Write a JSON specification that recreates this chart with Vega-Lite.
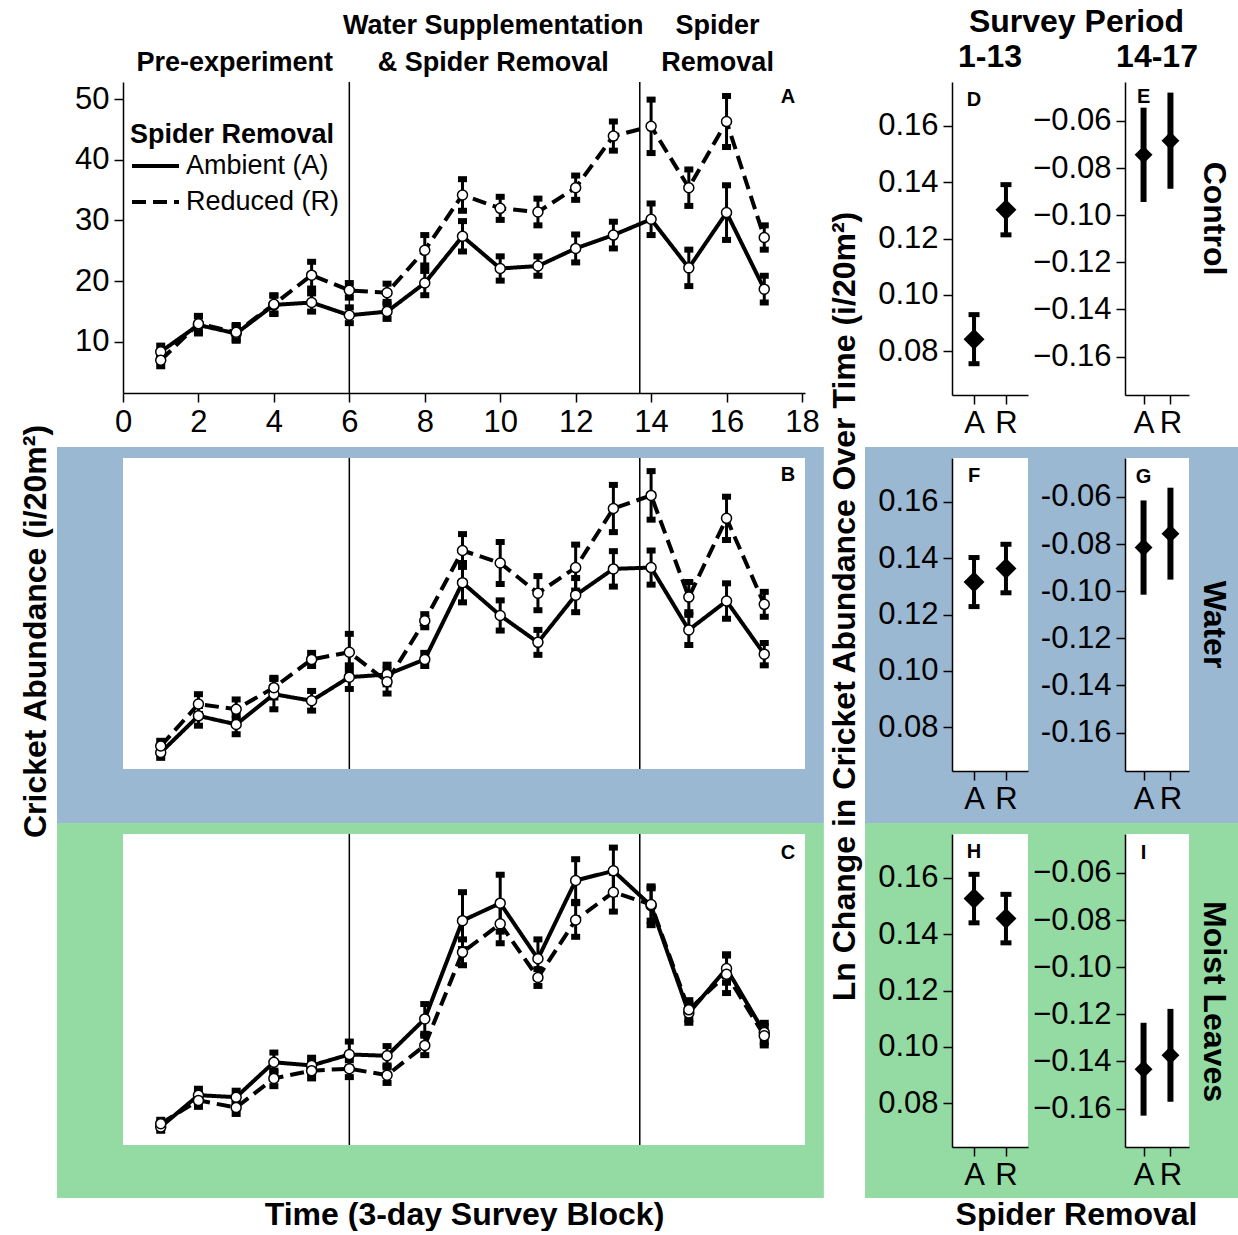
{
  "$schema": "https://vega.github.io/schema/vega-lite/v6.json",
  "background": "white",
  "padding": {"left": 18, "top": 6, "right": 0, "bottom": 0},
  "bounds": "flush",
  "align": "each",
  "columns": 5,
  "spacing": {"row": 63, "column": 0},
  "resolve": {"scale": {"strokeDash": "independent"}, "legend": {"strokeDash": "independent"}},
  "config": {
    "font": "Liberation Sans",
    "view": {"stroke": null},
    "axis": {"labelFont": "Liberation Sans", "labelFontSize": 31, "labelColor": "black", "titleFont": "Liberation Sans", "titleFontSize": 32, "titleFontWeight": "bold", "titleColor": "black", "domainColor": "black", "domainWidth": 1.5, "tickColor": "black", "tickWidth": 1.5, "tickSize": 9, "labelPadding": 5, "grid": false, "zindex": 1, "labelFlush": false, "labelOverlap": false, "labelLimit": 500, "titleLimit": 1000},
    "title": {"font": "Liberation Sans", "fontSize": 32, "fontWeight": "bold", "color": "black", "anchor": "middle", "zindex": 1},
    "legend": {"titleFont": "Liberation Sans", "labelFont": "Liberation Sans", "titleColor": "black", "labelColor": "black"},
    "text": {"font": "Liberation Sans"}
  },
  "datasets": {
    "phases": [{"boundary": 6}, {"boundary": 13.7}],
    "control": [
      {"block": 1, "removal": "Ambient (A)", "mean": 8.4, "se": 1.0},
      {"block": 2, "removal": "Ambient (A)", "mean": 12.8, "se": 1.4},
      {"block": 3, "removal": "Ambient (A)", "mean": 11.4, "se": 1.2},
      {"block": 4, "removal": "Ambient (A)", "mean": 16.1, "se": 1.5},
      {"block": 5, "removal": "Ambient (A)", "mean": 16.5, "se": 1.5},
      {"block": 6, "removal": "Ambient (A)", "mean": 14.4, "se": 1.3},
      {"block": 7, "removal": "Ambient (A)", "mean": 15.0, "se": 1.2},
      {"block": 8, "removal": "Ambient (A)", "mean": 19.7, "se": 2.0},
      {"block": 9, "removal": "Ambient (A)", "mean": 27.4, "se": 2.5},
      {"block": 10, "removal": "Ambient (A)", "mean": 22.1, "se": 2.0},
      {"block": 11, "removal": "Ambient (A)", "mean": 22.5, "se": 1.6},
      {"block": 12, "removal": "Ambient (A)", "mean": 25.4, "se": 2.3},
      {"block": 13, "removal": "Ambient (A)", "mean": 27.6, "se": 2.2},
      {"block": 14, "removal": "Ambient (A)", "mean": 30.2, "se": 2.6},
      {"block": 15, "removal": "Ambient (A)", "mean": 22.2, "se": 3.0},
      {"block": 16, "removal": "Ambient (A)", "mean": 31.3, "se": 4.5},
      {"block": 17, "removal": "Ambient (A)", "mean": 18.7, "se": 2.2},
      {"block": 1, "removal": "Reduced (R)", "mean": 7.0, "se": 1.0},
      {"block": 2, "removal": "Reduced (R)", "mean": 13.0, "se": 1.3},
      {"block": 3, "removal": "Reduced (R)", "mean": 11.6, "se": 1.2},
      {"block": 4, "removal": "Reduced (R)", "mean": 16.2, "se": 1.5},
      {"block": 5, "removal": "Reduced (R)", "mean": 21.0, "se": 2.2},
      {"block": 6, "removal": "Reduced (R)", "mean": 18.5, "se": 1.2},
      {"block": 7, "removal": "Reduced (R)", "mean": 18.1, "se": 1.5},
      {"block": 8, "removal": "Reduced (R)", "mean": 25.1, "se": 2.5},
      {"block": 9, "removal": "Reduced (R)", "mean": 34.2, "se": 2.6},
      {"block": 10, "removal": "Reduced (R)", "mean": 32.0, "se": 1.9},
      {"block": 11, "removal": "Reduced (R)", "mean": 31.4, "se": 2.2},
      {"block": 12, "removal": "Reduced (R)", "mean": 35.4, "se": 2.0},
      {"block": 13, "removal": "Reduced (R)", "mean": 43.9, "se": 2.4},
      {"block": 14, "removal": "Reduced (R)", "mean": 45.5, "se": 4.4},
      {"block": 15, "removal": "Reduced (R)", "mean": 35.4, "se": 3.0},
      {"block": 16, "removal": "Reduced (R)", "mean": 46.3, "se": 4.2},
      {"block": 17, "removal": "Reduced (R)", "mean": 27.2, "se": 2.0}
    ],
    "water": [
      {"block": 1, "removal": "Ambient (A)", "mean": 4.4, "se": 0.8},
      {"block": 2, "removal": "Ambient (A)", "mean": 10.0, "se": 1.5},
      {"block": 3, "removal": "Ambient (A)", "mean": 8.7, "se": 1.5},
      {"block": 4, "removal": "Ambient (A)", "mean": 13.3, "se": 2.3},
      {"block": 5, "removal": "Ambient (A)", "mean": 12.3, "se": 1.5},
      {"block": 6, "removal": "Ambient (A)", "mean": 15.9, "se": 1.8},
      {"block": 7, "removal": "Ambient (A)", "mean": 16.3, "se": 1.5},
      {"block": 8, "removal": "Ambient (A)", "mean": 18.6, "se": 1.0},
      {"block": 9, "removal": "Ambient (A)", "mean": 30.3, "se": 3.0},
      {"block": 10, "removal": "Ambient (A)", "mean": 25.3, "se": 2.3},
      {"block": 11, "removal": "Ambient (A)", "mean": 21.2, "se": 1.9},
      {"block": 12, "removal": "Ambient (A)", "mean": 28.4, "se": 2.6},
      {"block": 13, "removal": "Ambient (A)", "mean": 32.4, "se": 2.7},
      {"block": 14, "removal": "Ambient (A)", "mean": 32.6, "se": 2.6},
      {"block": 15, "removal": "Ambient (A)", "mean": 23.1, "se": 2.3},
      {"block": 16, "removal": "Ambient (A)", "mean": 27.5, "se": 2.7},
      {"block": 17, "removal": "Ambient (A)", "mean": 19.4, "se": 1.7},
      {"block": 1, "removal": "Reduced (R)", "mean": 5.4, "se": 0.8},
      {"block": 2, "removal": "Reduced (R)", "mean": 11.8, "se": 1.5},
      {"block": 3, "removal": "Reduced (R)", "mean": 11.0, "se": 1.5},
      {"block": 4, "removal": "Reduced (R)", "mean": 14.3, "se": 1.5},
      {"block": 5, "removal": "Reduced (R)", "mean": 18.6, "se": 1.0},
      {"block": 6, "removal": "Reduced (R)", "mean": 19.7, "se": 2.8},
      {"block": 7, "removal": "Reduced (R)", "mean": 15.2, "se": 1.8},
      {"block": 8, "removal": "Reduced (R)", "mean": 24.5, "se": 1.0},
      {"block": 9, "removal": "Reduced (R)", "mean": 35.2, "se": 2.5},
      {"block": 10, "removal": "Reduced (R)", "mean": 33.3, "se": 3.2},
      {"block": 11, "removal": "Reduced (R)", "mean": 28.7, "se": 2.6},
      {"block": 12, "removal": "Reduced (R)", "mean": 32.6, "se": 3.5},
      {"block": 13, "removal": "Reduced (R)", "mean": 41.6, "se": 3.6},
      {"block": 14, "removal": "Reduced (R)", "mean": 43.6, "se": 3.7},
      {"block": 15, "removal": "Reduced (R)", "mean": 28.1, "se": 2.3},
      {"block": 16, "removal": "Reduced (R)", "mean": 40.1, "se": 3.3},
      {"block": 17, "removal": "Reduced (R)", "mean": 27.0, "se": 1.9}
    ],
    "moist": [
      {"block": 1, "removal": "Ambient (A)", "mean": 5.5, "se": 0.6},
      {"block": 2, "removal": "Ambient (A)", "mean": 10.4, "se": 1.0},
      {"block": 3, "removal": "Ambient (A)", "mean": 10.1, "se": 1.0},
      {"block": 4, "removal": "Ambient (A)", "mean": 15.5, "se": 1.5},
      {"block": 5, "removal": "Ambient (A)", "mean": 15.0, "se": 1.2},
      {"block": 6, "removal": "Ambient (A)", "mean": 16.7, "se": 2.0},
      {"block": 7, "removal": "Ambient (A)", "mean": 16.5, "se": 1.5},
      {"block": 8, "removal": "Ambient (A)", "mean": 22.2, "se": 2.3},
      {"block": 9, "removal": "Ambient (A)", "mean": 37.4, "se": 4.4},
      {"block": 10, "removal": "Ambient (A)", "mean": 40.1, "se": 4.4},
      {"block": 11, "removal": "Ambient (A)", "mean": 31.5, "se": 3.0},
      {"block": 12, "removal": "Ambient (A)", "mean": 43.6, "se": 3.3},
      {"block": 13, "removal": "Ambient (A)", "mean": 45.1, "se": 3.6},
      {"block": 14, "removal": "Ambient (A)", "mean": 39.7, "se": 3.0},
      {"block": 15, "removal": "Ambient (A)", "mean": 23.1, "se": 1.5},
      {"block": 16, "removal": "Ambient (A)", "mean": 30.0, "se": 2.2},
      {"block": 17, "removal": "Ambient (A)", "mean": 20.1, "se": 1.5},
      {"block": 1, "removal": "Reduced (R)", "mean": 6.0, "se": 0.6},
      {"block": 2, "removal": "Reduced (R)", "mean": 9.6, "se": 1.0},
      {"block": 3, "removal": "Reduced (R)", "mean": 8.5, "se": 1.0},
      {"block": 4, "removal": "Reduced (R)", "mean": 13.0, "se": 1.2},
      {"block": 5, "removal": "Reduced (R)", "mean": 14.2, "se": 1.2},
      {"block": 6, "removal": "Reduced (R)", "mean": 14.5, "se": 1.3},
      {"block": 7, "removal": "Reduced (R)", "mean": 13.5, "se": 1.2},
      {"block": 8, "removal": "Reduced (R)", "mean": 18.1, "se": 1.5},
      {"block": 9, "removal": "Reduced (R)", "mean": 32.5, "se": 2.0},
      {"block": 10, "removal": "Reduced (R)", "mean": 36.9, "se": 3.0},
      {"block": 11, "removal": "Reduced (R)", "mean": 28.6, "se": 1.3},
      {"block": 12, "removal": "Reduced (R)", "mean": 37.5, "se": 2.6},
      {"block": 13, "removal": "Reduced (R)", "mean": 41.8, "se": 3.0},
      {"block": 14, "removal": "Reduced (R)", "mean": 39.9, "se": 2.5},
      {"block": 15, "removal": "Reduced (R)", "mean": 23.6, "se": 1.5},
      {"block": 16, "removal": "Reduced (R)", "mean": 29.1, "se": 2.9},
      {"block": 17, "removal": "Reduced (R)", "mean": 19.6, "se": 1.5}
    ],
    "change": [
      {"treatment": "Control", "period": "1-13", "removal": "A", "mean": 0.0843, "se": 0.0087},
      {"treatment": "Control", "period": "1-13", "removal": "R", "mean": 0.1302, "se": 0.0089},
      {"treatment": "Control", "period": "14-17", "removal": "A", "mean": -0.0744, "se": 0.0200},
      {"treatment": "Control", "period": "14-17", "removal": "R", "mean": -0.0684, "se": 0.0204},
      {"treatment": "Water", "period": "1-13", "removal": "A", "mean": 0.1315, "se": 0.0087},
      {"treatment": "Water", "period": "1-13", "removal": "R", "mean": 0.1363, "se": 0.0086},
      {"treatment": "Water", "period": "14-17", "removal": "A", "mean": -0.0815, "se": 0.0200},
      {"treatment": "Water", "period": "14-17", "removal": "R", "mean": -0.0756, "se": 0.0195},
      {"treatment": "Moist Leaves", "period": "1-13", "removal": "A", "mean": 0.1526, "se": 0.0086},
      {"treatment": "Moist Leaves", "period": "1-13", "removal": "R", "mean": 0.1455, "se": 0.0086},
      {"treatment": "Moist Leaves", "period": "14-17", "removal": "A", "mean": -0.1433, "se": 0.0197},
      {"treatment": "Moist Leaves", "period": "14-17", "removal": "R", "mean": -0.1374, "se": 0.0197}
    ]
  },
  "concat": [
    {
      "width": 682,
      "height": 311,
      "data": {"name": "control"},
      "resolve": {"axis": {"x": "independent", "y": "independent"}},
      "layer": [
        {
          "data": {"name": "phases"},
          "mark": {"type": "rule", "color": "black", "strokeWidth": 1.5},
          "encoding": {
            "x": {"field": "boundary", "type": "quantitative", "scale": {"domain": [0, 18.08], "nice": false, "zero": false},
              "axis": {"orient": "top", "values": [2.95, 9.8, 15.75], "labelExpr": "datum.value < 5 ? ['', 'Pre-experiment'] : datum.value < 12 ? ['Water Supplementation', '& Spider Removal'] : ['Spider', 'Removal']", "ticks": false, "tickSize": 0, "domain": false, "title": null, "labelFontWeight": "bold", "labelFontSize": 27, "labelLineHeight": 37, "labelPadding": 43, "labelBaseline": "bottom", "labelOverlap": false, "labelFlush": false, "labelBound": false, "labelLimit": 600}}
          }
        },
        {
          "mark": {"type": "errorbar", "size": 9, "thickness": 3, "ticks": {"thickness": 6, "color": "black", "opacity": 1}, "rule": {"color": "black", "opacity": 1}, "color": "black"},
          "encoding": {
            "x": {"field": "block", "type": "quantitative", "scale": {"domain": [0, 18.08], "nice": false, "zero": false}, "axis": null},
            "y": {"field": "mean", "type": "quantitative", "scale": {"domain": [1.6, 52.8], "nice": false, "zero": false}, "axis": null},
            "yError": {"field": "se"}
          }
        },
        {
          "mark": {"type": "line", "color": "black", "strokeWidth": 4},
          "encoding": {
            "x": {"field": "block", "type": "quantitative", "scale": {"domain": [0, 18.08], "nice": false, "zero": false}, "axis": {"values": [0, 2, 4, 6, 8, 10, 12, 14, 16, 18], "title": null}},
            "y": {"field": "mean", "type": "quantitative", "scale": {"domain": [1.6, 52.8], "nice": false, "zero": false}, "axis": {"values": [10, 20, 30, 40, 50], "title": null}},
            "strokeDash": {"field": "removal", "type": "nominal", "scale": {"domain": ["Ambient (A)", "Reduced (R)"], "range": [[1, 0], [14, 7]]},
              "legend": {"title": "Spider Removal", "orient": "none", "legendX": 7, "legendY": 40, "symbolType": "stroke", "symbolSize": 2209, "symbolStrokeWidth": 4, "symbolStrokeColor": "black", "clipHeight": 30, "titleFontSize": 27, "titleFontWeight": "bold", "titleLimit": 500, "labelFontSize": 27, "rowPadding": 6, "titlePadding": 2, "labelOffset": 5, "labelLimit": 400}}
          }
        },
        {
          "mark": {"type": "point", "shape": "circle", "filled": true, "fill": "white", "stroke": "black", "strokeWidth": 1.5, "size": 100, "opacity": 1},
          "encoding": {
            "x": {"field": "block", "type": "quantitative", "scale": {"domain": [0, 18.08], "nice": false, "zero": false}, "axis": null},
            "y": {"field": "mean", "type": "quantitative", "scale": {"domain": [1.6, 52.8], "nice": false, "zero": false}, "axis": null}
          }
        },
        {
          "data": {"values": [{"panel": "A"}]},
          "mark": {"type": "text", "fontSize": 20, "fontWeight": "bold", "align": "center", "baseline": "middle", "color": "black"},
          "encoding": {
            "x": {"datum": 17.63, "type": "quantitative", "scale": {"domain": [0, 18.08], "nice": false, "zero": false}, "axis": null},
            "y": {"datum": 50.3, "type": "quantitative", "scale": {"domain": [1.6, 52.8], "nice": false, "zero": false}, "axis": null},
            "text": {"field": "panel"}
          }
        }
      ]
    },
    {"width": 147, "height": 313, "data": {"values": []}, "mark": {"type": "point"}, "encoding": {}},
    {
      "width": 76,
      "height": 313,
      "title": {"text": "1-13", "offset": 8},
      "data": {"name": "change"},
      "resolve": {"axis": {"x": "independent", "y": "independent"}},
      "layer": [
        {
          "transform": [{"filter": {"and": [{"field": "treatment", "equal": "Control"}, {"field": "period", "equal": "1-13"}]}}],
          "mark": {"type": "errorbar", "size": 11, "thickness": 4, "ticks": {"thickness": 5, "color": "black", "opacity": 1}, "rule": {"color": "black", "opacity": 1}, "color": "black"},
          "encoding": {
            "x": {"field": "removal", "type": "nominal", "scale": {"type": "point", "domain": ["A", "R"], "padding": 0.69}, "axis": null},
            "y": {"field": "mean", "type": "quantitative", "scale": {"domain": [0.0645, 0.1755], "nice": false, "zero": false}, "axis": null},
            "yError": {"field": "se"}
          }
        },
        {
          "transform": [{"filter": {"and": [{"field": "treatment", "equal": "Control"}, {"field": "period", "equal": "1-13"}]}}],
          "mark": {"type": "point", "shape": "diamond", "filled": true, "color": "black", "size": 440, "opacity": 1},
          "encoding": {
            "x": {"field": "removal", "type": "nominal", "scale": {"type": "point", "domain": ["A", "R"], "padding": 0.69}, "axis": {"title": null, "labelAngle": 0, "labelPadding": 4}},
            "y": {"field": "mean", "type": "quantitative", "scale": {"domain": [0.0645, 0.1755], "nice": false, "zero": false}, "axis": {"values": [0.08, 0.1, 0.12, 0.14, 0.16], "format": ".2f", "title": null}}
          }
        },
        {
          "data": {"values": [{"panel": "D"}]},
          "mark": {"type": "text", "fontSize": 20, "fontWeight": "bold", "align": "center", "baseline": "middle", "color": "black"},
          "encoding": {
            "x": {"datum": "A", "type": "nominal", "scale": {"type": "point", "domain": ["A", "R"], "padding": 0.69}, "axis": null},
            "y": {"datum": 0.169, "type": "quantitative", "scale": {"domain": [0.0645, 0.1755], "nice": false, "zero": false}, "axis": null},
            "text": {"field": "panel"}
          }
        }
      ]
    },
    {"width": 97, "height": 313, "title": {"text": "Survey Period", "offset": 43, "frame": "group"}, "data": {"values": []}, "mark": {"type": "point"}, "encoding": {}},
    {
      "width": 64,
      "height": 313,
      "title": {"text": "14-17", "offset": 8},
      "data": {"name": "change"},
      "resolve": {"axis": {"x": "independent", "y": "independent"}},
      "layer": [
        {
          "transform": [{"filter": {"and": [{"field": "treatment", "equal": "Control"}, {"field": "period", "equal": "14-17"}]}}],
          "mark": {"type": "errorbar", "thickness": 6, "rule": {"color": "black", "opacity": 1}, "color": "black"},
          "encoding": {
            "x": {"field": "removal", "type": "nominal", "scale": {"type": "point", "domain": ["A", "R"], "padding": 0.69}, "axis": null},
            "y": {"field": "mean", "type": "quantitative", "scale": {"domain": [-0.1763, -0.0435], "nice": false, "zero": false}, "axis": null},
            "yError": {"field": "se"}
          }
        },
        {
          "transform": [{"filter": {"and": [{"field": "treatment", "equal": "Control"}, {"field": "period", "equal": "14-17"}]}}],
          "mark": {"type": "point", "shape": "diamond", "filled": true, "color": "black", "size": 320, "opacity": 1},
          "encoding": {
            "x": {"field": "removal", "type": "nominal", "scale": {"type": "point", "domain": ["A", "R"], "padding": 0.69}, "axis": {"title": null, "labelAngle": 0, "labelPadding": 4}},
            "y": {"field": "mean", "type": "quantitative", "scale": {"domain": [-0.1763, -0.0435], "nice": false, "zero": false}, "axis": {"values": [-0.16, -0.14, -0.12, -0.1, -0.08, -0.06], "format": ".2f", "title": null}}
          }
        },
        {
          "data": {"values": [{"panel": "E"}]},
          "mark": {"type": "text", "fontSize": 20, "fontWeight": "bold", "align": "center", "baseline": "middle", "color": "black"},
          "encoding": {
            "x": {"datum": "A", "type": "nominal", "scale": {"type": "point", "domain": ["A", "R"], "padding": 0.69}, "axis": null},
            "y": {"datum": -0.0499, "type": "quantitative", "scale": {"domain": [-0.1763, -0.0435], "nice": false, "zero": false}, "axis": {"orient": "right", "title": "Control", "labels": false, "ticks": false, "domain": false, "titlePadding": 7, "titleY": 136}},
            "text": {"field": "panel"}
          }
        }
      ]
    },
    {
      "width": 682,
      "height": 311,
      "data": {"name": "water"},
      "resolve": {"axis": {"x": "independent", "y": "independent"}},
      "layer": [
        {
          "data": {"values": [{"treatment": "Water"}]},
          "mark": {"type": "rect", "fill": "#9bb8d3"},
          "encoding": {
            "x": {"datum": -1.75, "type": "quantitative", "scale": {"domain": [0, 18.08], "nice": false, "zero": false}, "axis": null},
            "x2": {"datum": 18.58},
            "y": {"datum": 50.98, "type": "quantitative", "scale": {"domain": [1.9, 49.3], "nice": false, "zero": false}, "axis": null},
            "y2": {"datum": -6.34}
          }
        },
        {
          "data": {"values": [{"treatment": "Water"}]},
          "mark": {"type": "rect", "fill": "#9bb8d3"},
          "encoding": {
            "x": {"datum": 19.67, "type": "quantitative", "scale": {"domain": [0, 18.08], "nice": false, "zero": false}, "axis": null},
            "x2": {"datum": 29.61},
            "y": {"datum": 50.98, "type": "quantitative", "scale": {"domain": [1.9, 49.3], "nice": false, "zero": false}, "axis": null},
            "y2": {"datum": -6.34}
          }
        },
        {
          "data": {"values": [{"treatment": "Water"}]},
          "mark": {"type": "rect", "fill": "white"},
          "encoding": {
            "x": {"datum": 0, "type": "quantitative", "scale": {"domain": [0, 18.08], "nice": false, "zero": false}, "axis": null},
            "x2": {"datum": 18.08},
            "y": {"datum": 1.9, "type": "quantitative", "scale": {"domain": [1.9, 49.3], "nice": false, "zero": false}, "axis": null},
            "y2": {"datum": 49.3}
          }
        },
        {
          "data": {"name": "phases"},
          "mark": {"type": "rule", "color": "black", "strokeWidth": 1.5},
          "encoding": {
            "x": {"field": "boundary", "type": "quantitative", "scale": {"domain": [0, 18.08], "nice": false, "zero": false}, "axis": null}
          }
        },
        {
          "mark": {"type": "errorbar", "size": 9, "thickness": 3, "ticks": {"thickness": 6, "color": "black", "opacity": 1}, "rule": {"color": "black", "opacity": 1}, "color": "black"},
          "encoding": {
            "x": {"field": "block", "type": "quantitative", "scale": {"domain": [0, 18.08], "nice": false, "zero": false}, "axis": null},
            "y": {"field": "mean", "type": "quantitative", "scale": {"domain": [1.9, 49.3], "nice": false, "zero": false}, "axis": null},
            "yError": {"field": "se"}
          }
        },
        {
          "mark": {"type": "line", "color": "black", "strokeWidth": 4},
          "encoding": {
            "x": {"field": "block", "type": "quantitative", "scale": {"domain": [0, 18.08], "nice": false, "zero": false}, "axis": {"values": [0, 2, 4, 6, 8, 10, 12, 14, 16, 18], "title": null}},
            "y": {"field": "mean", "type": "quantitative", "scale": {"domain": [1.9, 49.3], "nice": false, "zero": false}, "axis": {"values": [10, 20, 30, 40], "title": "Cricket Abundance (i/20m²)", "titleX": -78, "titleY": 173, "titleBaseline": "alphabetic"}},
            "strokeDash": {"field": "removal", "type": "nominal", "scale": {"domain": ["Ambient (A)", "Reduced (R)"], "range": [[1, 0], [14, 7]]}, "legend": null}
          }
        },
        {
          "mark": {"type": "point", "shape": "circle", "filled": true, "fill": "white", "stroke": "black", "strokeWidth": 1.5, "size": 100, "opacity": 1},
          "encoding": {
            "x": {"field": "block", "type": "quantitative", "scale": {"domain": [0, 18.08], "nice": false, "zero": false}, "axis": null},
            "y": {"field": "mean", "type": "quantitative", "scale": {"domain": [1.9, 49.3], "nice": false, "zero": false}, "axis": null}
          }
        },
        {
          "data": {"values": [{"panel": "B"}]},
          "mark": {"type": "text", "fontSize": 20, "fontWeight": "bold", "align": "center", "baseline": "middle", "color": "black"},
          "encoding": {
            "x": {"datum": 17.63, "type": "quantitative", "scale": {"domain": [0, 18.08], "nice": false, "zero": false}, "axis": null},
            "y": {"datum": 46.7, "type": "quantitative", "scale": {"domain": [1.9, 49.3], "nice": false, "zero": false}, "axis": null},
            "text": {"field": "panel"}
          }
        }
      ]
    },
    {"width": 147, "height": 313, "data": {"values": []}, "mark": {"type": "point"}, "encoding": {}},
    {
      "width": 76,
      "height": 313,
      "view": {"fill": "white"},
      "data": {"name": "change"},
      "resolve": {"axis": {"x": "independent", "y": "independent"}},
      "layer": [
        {
          "transform": [{"filter": {"and": [{"field": "treatment", "equal": "Water"}, {"field": "period", "equal": "1-13"}]}}],
          "mark": {"type": "errorbar", "size": 11, "thickness": 4, "ticks": {"thickness": 5, "color": "black", "opacity": 1}, "rule": {"color": "black", "opacity": 1}, "color": "black"},
          "encoding": {
            "x": {"field": "removal", "type": "nominal", "scale": {"type": "point", "domain": ["A", "R"], "padding": 0.69}, "axis": null},
            "y": {"field": "mean", "type": "quantitative", "scale": {"domain": [0.0645, 0.1755], "nice": false, "zero": false}, "axis": null},
            "yError": {"field": "se"}
          }
        },
        {
          "transform": [{"filter": {"and": [{"field": "treatment", "equal": "Water"}, {"field": "period", "equal": "1-13"}]}}],
          "mark": {"type": "point", "shape": "diamond", "filled": true, "color": "black", "size": 440, "opacity": 1},
          "encoding": {
            "x": {"field": "removal", "type": "nominal", "scale": {"type": "point", "domain": ["A", "R"], "padding": 0.69}, "axis": {"title": null, "labelAngle": 0, "labelPadding": 4}},
            "y": {"field": "mean", "type": "quantitative", "scale": {"domain": [0.0645, 0.1755], "nice": false, "zero": false}, "axis": {"values": [0.08, 0.1, 0.12, 0.14, 0.16], "format": ".2f", "title": "Ln Change in Cricket Abundance Over Time (i/20m²)", "titleX": -98, "titleY": 148, "titleBaseline": "alphabetic"}}
          }
        },
        {
          "data": {"values": [{"panel": "F"}]},
          "mark": {"type": "text", "fontSize": 20, "fontWeight": "bold", "align": "center", "baseline": "middle", "color": "black"},
          "encoding": {
            "x": {"datum": "A", "type": "nominal", "scale": {"type": "point", "domain": ["A", "R"], "padding": 0.69}, "axis": null},
            "y": {"datum": 0.169, "type": "quantitative", "scale": {"domain": [0.0645, 0.1755], "nice": false, "zero": false}, "axis": null},
            "text": {"field": "panel"}
          }
        }
      ]
    },
    {"width": 97, "height": 313, "data": {"values": []}, "mark": {"type": "point"}, "encoding": {}},
    {
      "width": 64,
      "height": 313,
      "view": {"fill": "white"},
      "data": {"name": "change"},
      "resolve": {"axis": {"x": "independent", "y": "independent"}},
      "layer": [
        {
          "transform": [{"filter": {"and": [{"field": "treatment", "equal": "Water"}, {"field": "period", "equal": "14-17"}]}}],
          "mark": {"type": "errorbar", "thickness": 6, "rule": {"color": "black", "opacity": 1}, "color": "black"},
          "encoding": {
            "x": {"field": "removal", "type": "nominal", "scale": {"type": "point", "domain": ["A", "R"], "padding": 0.69}, "axis": null},
            "y": {"field": "mean", "type": "quantitative", "scale": {"domain": [-0.1763, -0.0435], "nice": false, "zero": false}, "axis": null},
            "yError": {"field": "se"}
          }
        },
        {
          "transform": [{"filter": {"and": [{"field": "treatment", "equal": "Water"}, {"field": "period", "equal": "14-17"}]}}],
          "mark": {"type": "point", "shape": "diamond", "filled": true, "color": "black", "size": 320, "opacity": 1},
          "encoding": {
            "x": {"field": "removal", "type": "nominal", "scale": {"type": "point", "domain": ["A", "R"], "padding": 0.69}, "axis": {"title": null, "labelAngle": 0, "labelPadding": 4}},
            "y": {"field": "mean", "type": "quantitative", "scale": {"domain": [-0.1763, -0.0435], "nice": false, "zero": false}, "axis": {"values": [-0.16, -0.14, -0.12, -0.1, -0.08, -0.06], "labelExpr": "'-' + format(abs(datum.value), '.2f')", "title": null}}
          }
        },
        {
          "data": {"values": [{"panel": "G"}]},
          "mark": {"type": "text", "fontSize": 20, "fontWeight": "bold", "align": "center", "baseline": "middle", "color": "black"},
          "encoding": {
            "x": {"datum": "A", "type": "nominal", "scale": {"type": "point", "domain": ["A", "R"], "padding": 0.69}, "axis": null},
            "y": {"datum": -0.0515, "type": "quantitative", "scale": {"domain": [-0.1763, -0.0435], "nice": false, "zero": false}, "axis": {"orient": "right", "title": "Water", "labels": false, "ticks": false, "domain": false, "titlePadding": 7, "titleY": 166}},
            "text": {"field": "panel"}
          }
        }
      ]
    },
    {
      "width": 682,
      "height": 311,
      "data": {"name": "moist"},
      "resolve": {"axis": {"x": "independent", "y": "independent"}},
      "layer": [
        {
          "data": {"values": [{"treatment": "Moist Leaves"}]},
          "mark": {"type": "rect", "fill": "#93daa3"},
          "encoding": {
            "x": {"datum": -1.75, "type": "quantitative", "scale": {"domain": [0, 18.08], "nice": false, "zero": false}, "axis": null},
            "x2": {"datum": 18.58},
            "y": {"datum": 52.5, "type": "quantitative", "scale": {"domain": [2.7, 50.8], "nice": false, "zero": false}, "axis": null},
            "y2": {"datum": -5.49}
          }
        },
        {
          "data": {"values": [{"treatment": "Moist Leaves"}]},
          "mark": {"type": "rect", "fill": "#93daa3"},
          "encoding": {
            "x": {"datum": 19.67, "type": "quantitative", "scale": {"domain": [0, 18.08], "nice": false, "zero": false}, "axis": null},
            "x2": {"datum": 29.61},
            "y": {"datum": 52.5, "type": "quantitative", "scale": {"domain": [2.7, 50.8], "nice": false, "zero": false}, "axis": null},
            "y2": {"datum": -5.49}
          }
        },
        {
          "data": {"values": [{"treatment": "Moist Leaves"}]},
          "mark": {"type": "rect", "fill": "white"},
          "encoding": {
            "x": {"datum": 0, "type": "quantitative", "scale": {"domain": [0, 18.08], "nice": false, "zero": false}, "axis": null},
            "x2": {"datum": 18.08},
            "y": {"datum": 2.7, "type": "quantitative", "scale": {"domain": [2.7, 50.8], "nice": false, "zero": false}, "axis": null},
            "y2": {"datum": 50.8}
          }
        },
        {
          "data": {"name": "phases"},
          "mark": {"type": "rule", "color": "black", "strokeWidth": 1.5},
          "encoding": {
            "x": {"field": "boundary", "type": "quantitative", "scale": {"domain": [0, 18.08], "nice": false, "zero": false}, "axis": null}
          }
        },
        {
          "mark": {"type": "errorbar", "size": 9, "thickness": 3, "ticks": {"thickness": 6, "color": "black", "opacity": 1}, "rule": {"color": "black", "opacity": 1}, "color": "black"},
          "encoding": {
            "x": {"field": "block", "type": "quantitative", "scale": {"domain": [0, 18.08], "nice": false, "zero": false}, "axis": null},
            "y": {"field": "mean", "type": "quantitative", "scale": {"domain": [2.7, 50.8], "nice": false, "zero": false}, "axis": null},
            "yError": {"field": "se"}
          }
        },
        {
          "mark": {"type": "line", "color": "black", "strokeWidth": 4},
          "encoding": {
            "x": {"field": "block", "type": "quantitative", "scale": {"domain": [0, 18.08], "nice": false, "zero": false}, "axis": {"values": [0, 2, 4, 6, 8, 10, 12, 14, 16, 18], "title": "Time (3-day Survey Block)", "titlePadding": 10}},
            "y": {"field": "mean", "type": "quantitative", "scale": {"domain": [2.7, 50.8], "nice": false, "zero": false}, "axis": {"values": [10, 20, 30, 40, 50], "title": null}},
            "strokeDash": {"field": "removal", "type": "nominal", "scale": {"domain": ["Ambient (A)", "Reduced (R)"], "range": [[1, 0], [14, 7]]}, "legend": null}
          }
        },
        {
          "mark": {"type": "point", "shape": "circle", "filled": true, "fill": "white", "stroke": "black", "strokeWidth": 1.5, "size": 100, "opacity": 1},
          "encoding": {
            "x": {"field": "block", "type": "quantitative", "scale": {"domain": [0, 18.08], "nice": false, "zero": false}, "axis": null},
            "y": {"field": "mean", "type": "quantitative", "scale": {"domain": [2.7, 50.8], "nice": false, "zero": false}, "axis": null}
          }
        },
        {
          "data": {"values": [{"panel": "C"}]},
          "mark": {"type": "text", "fontSize": 20, "fontWeight": "bold", "align": "center", "baseline": "middle", "color": "black"},
          "encoding": {
            "x": {"datum": 17.63, "type": "quantitative", "scale": {"domain": [0, 18.08], "nice": false, "zero": false}, "axis": null},
            "y": {"datum": 47.9, "type": "quantitative", "scale": {"domain": [2.7, 50.8], "nice": false, "zero": false}, "axis": null},
            "text": {"field": "panel"}
          }
        }
      ]
    },
    {"width": 147, "height": 313, "data": {"values": []}, "mark": {"type": "point"}, "encoding": {}},
    {
      "width": 76,
      "height": 313,
      "view": {"fill": "white"},
      "data": {"name": "change"},
      "resolve": {"axis": {"x": "independent", "y": "independent"}},
      "layer": [
        {
          "transform": [{"filter": {"and": [{"field": "treatment", "equal": "Moist Leaves"}, {"field": "period", "equal": "1-13"}]}}],
          "mark": {"type": "errorbar", "size": 11, "thickness": 4, "ticks": {"thickness": 5, "color": "black", "opacity": 1}, "rule": {"color": "black", "opacity": 1}, "color": "black"},
          "encoding": {
            "x": {"field": "removal", "type": "nominal", "scale": {"type": "point", "domain": ["A", "R"], "padding": 0.69}, "axis": null},
            "y": {"field": "mean", "type": "quantitative", "scale": {"domain": [0.0645, 0.1755], "nice": false, "zero": false}, "axis": null},
            "yError": {"field": "se"}
          }
        },
        {
          "transform": [{"filter": {"and": [{"field": "treatment", "equal": "Moist Leaves"}, {"field": "period", "equal": "1-13"}]}}],
          "mark": {"type": "point", "shape": "diamond", "filled": true, "color": "black", "size": 440, "opacity": 1},
          "encoding": {
            "x": {"field": "removal", "type": "nominal", "scale": {"type": "point", "domain": ["A", "R"], "padding": 0.69}, "axis": {"title": null, "labelAngle": 0, "labelPadding": 4}},
            "y": {"field": "mean", "type": "quantitative", "scale": {"domain": [0.0645, 0.1755], "nice": false, "zero": false}, "axis": {"values": [0.08, 0.1, 0.12, 0.14, 0.16], "format": ".2f", "title": null}}
          }
        },
        {
          "data": {"values": [{"panel": "H"}]},
          "mark": {"type": "text", "fontSize": 20, "fontWeight": "bold", "align": "center", "baseline": "middle", "color": "black"},
          "encoding": {
            "x": {"datum": "A", "type": "nominal", "scale": {"type": "point", "domain": ["A", "R"], "padding": 0.69}, "axis": null},
            "y": {"datum": 0.169, "type": "quantitative", "scale": {"domain": [0.0645, 0.1755], "nice": false, "zero": false}, "axis": null},
            "text": {"field": "panel"}
          }
        }
      ]
    },
    {"width": 97, "height": 313, "title": {"text": "Spider Removal", "orient": "bottom", "offset": 53, "frame": "group"}, "data": {"values": []}, "mark": {"type": "point"}, "encoding": {}},
    {
      "width": 64,
      "height": 313,
      "view": {"fill": "white"},
      "data": {"name": "change"},
      "resolve": {"axis": {"x": "independent", "y": "independent"}},
      "layer": [
        {
          "transform": [{"filter": {"and": [{"field": "treatment", "equal": "Moist Leaves"}, {"field": "period", "equal": "14-17"}]}}],
          "mark": {"type": "errorbar", "thickness": 6, "rule": {"color": "black", "opacity": 1}, "color": "black"},
          "encoding": {
            "x": {"field": "removal", "type": "nominal", "scale": {"type": "point", "domain": ["A", "R"], "padding": 0.69}, "axis": null},
            "y": {"field": "mean", "type": "quantitative", "scale": {"domain": [-0.1763, -0.0435], "nice": false, "zero": false}, "axis": null},
            "yError": {"field": "se"}
          }
        },
        {
          "transform": [{"filter": {"and": [{"field": "treatment", "equal": "Moist Leaves"}, {"field": "period", "equal": "14-17"}]}}],
          "mark": {"type": "point", "shape": "diamond", "filled": true, "color": "black", "size": 320, "opacity": 1},
          "encoding": {
            "x": {"field": "removal", "type": "nominal", "scale": {"type": "point", "domain": ["A", "R"], "padding": 0.69}, "axis": {"title": null, "labelAngle": 0, "labelPadding": 4}},
            "y": {"field": "mean", "type": "quantitative", "scale": {"domain": [-0.1763, -0.0435], "nice": false, "zero": false}, "axis": {"values": [-0.16, -0.14, -0.12, -0.1, -0.08, -0.06], "format": ".2f", "title": null}}
          }
        },
        {
          "data": {"values": [{"panel": "I"}]},
          "mark": {"type": "text", "fontSize": 20, "fontWeight": "bold", "align": "center", "baseline": "middle", "color": "black"},
          "encoding": {
            "x": {"datum": "A", "type": "nominal", "scale": {"type": "point", "domain": ["A", "R"], "padding": 0.69}, "axis": null},
            "y": {"datum": -0.0515, "type": "quantitative", "scale": {"domain": [-0.1763, -0.0435], "nice": false, "zero": false}, "axis": {"orient": "right", "title": "Moist Leaves", "labels": false, "ticks": false, "domain": false, "titlePadding": 7, "titleY": 167}},
            "text": {"field": "panel"}
          }
        }
      ]
    }
  ]
}
